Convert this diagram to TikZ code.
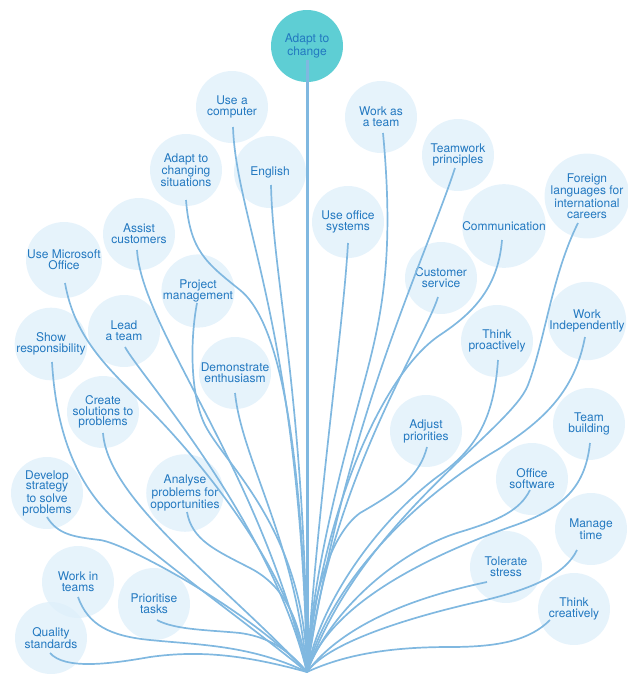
\documentclass[tikz,border=0pt]{standalone}
\usepackage{fontspec}
\setmainfont{TeX Gyre Heros}
\usepackage{tikz}
\definecolor{bub}{RGB}{222,239,250}
\definecolor{goalc}{RGB}{94,206,212}
\definecolor{ink}{RGB}{34,120,192}
\definecolor{stemc}{RGB}{128,184,224}
\newcommand{\skillfont}{\fontsize{12}{10.8}\selectfont}

\begin{document}
\begin{tikzpicture}[x=1pt,y=-1pt,
	skill/.style={circle,fill=bub,fill opacity=.75,text opacity=1,text=ink,minimum size=72pt,inner sep=0pt,align=center,font=\skillfont},
	goal/.style={skill,fill=goalc,fill opacity=1},
	stem/.style={draw=stemc,line width=1.7pt},
	trunk/.style={draw=stemc,line width=3pt},
	]
	\useasboundingbox (0,0) rectangle (628,675);
	\coordinate (root) at (307,672);

	\node[goal] (change) at (307,46) {Adapt to\\change};

	\node[skill] (comp) at (232,107) {Use a\\computer};
	\node[skill] (engl) at (270,172) {English};
	\node[skill] (adsit) at (186,170) {Adapt to\\changing\\situations};
	\node[skill] (assist) at (139,234) {Assist\\customers};
	\node[skill] (msoff) at (64,260) {Use Microsoft\\Office};
	\node[skill] (projm) at (198,291) {Project\\management};
	\node[skill] (lead) at (124,331) {Lead\\a team};
	\node[skill] (resp) at (51,344) {Show\\responsibility};
	\node[skill] (enth) at (235,373) {Demonstrate\\enthusiasm};
	\node[skill] (sol) at (103,412) {Create\\solutions to\\problems};
	\node[skill] (strat) at (47,493) {Develop\\strategy\\to solve\\problems};
	\node[skill] (anal) at (185,493) {Analyse\\problems for\\opportunities};
	\node[skill] (wteams) at (78,582) {Work in\\teams};
	\node[skill] (prio) at (154,604) {Prioritise\\tasks};
	\node[skill] (qual) at (51,638) {Quality\\standards};

	\node[skill] (wteam) at (381,117) {Work as\\a team};
	\node[skill] (twp) at (458,155) {Teamwork\\principles};
	\node[skill] (offsys) at (348,222) {Use office\\systems};
	\node[skill] (comm) at (504,226) {Communication};
	\node[skill] (lang) at (587,196) {Foreign\\languages for\\international\\careers};
	\node[skill] (cserv) at (441,278) {Customer\\service};
	\node[skill] (proact) at (497,341) {Think\\proactively};
	\node[skill] (indep) at (587,321) {Work\\Independently};
	\node[skill] (adjust) at (426,431) {Adjust\\priorities};
	\node[skill] (tbuild) at (589,424) {Team\\building};
	\node[skill] (offsw) at (532,479) {Office\\software};
	\node[skill] (mtime) at (591,529) {Manage\\time};
	\node[skill] (stress) at (506,567) {Tolerate\\stress};
	\node[skill] (creat) at (574,609) {Think\\creatively};

	\draw[trunk] ([yshift=-14pt]change.center) -- (root);

	\draw[stem] ([shift={(1,20)}]comp.center) .. controls (236,220) and (300,330) .. (root);
	\draw[stem] ([shift={(1,13)}]engl.center) .. controls (273,280) and (305,400) .. (root);
	\draw[stem] ([shift={(0,30)}]adsit.center) .. controls (190,250) and (205,262) .. (240,290) .. controls (275,318) and (302,420) .. (root);
	\draw[stem] ([shift={(-2,16)}]assist.center) .. controls (142,330) and (260,468) .. (root);
	\draw[stem] ([shift={(1,23)}]msoff.center) .. controls (75,340) and (110,370) .. (150,410) .. controls (190,450) and (295,570) .. (root);
	\draw[stem] ([shift={(-1,12)}]projm.center) .. controls (190,340) and (190,395) .. (205,425) .. controls (225,465) and (305,530) .. (root);
	\draw[stem] ([shift={(1,16)}]lead.center) .. controls (140,375) and (270,520) .. (root);
	\draw[stem] ([shift={(1,18)}]resp.center) .. controls (56,430) and (75,480) .. (110,515) .. controls (145,550) and (250,625) .. (root);
	\draw[stem] ([shift={(0,20)}]enth.center) .. controls (242,460) and (295,540) .. (root);
	\draw[stem] ([shift={(0,21)}]sol.center) .. controls (108,500) and (220,580) .. (root);
	\draw[stem] ([shift={(0,24)}]strat.center) .. controls (58,535) and (75,537) .. (100,540) .. controls (125,543) and (250,610) .. (root);
	\draw[stem] ([shift={(2,19)}]anal.center) .. controls (192,540) and (215,550) .. (250,568) .. controls (285,586) and (300,620) .. (root);
	\draw[stem] ([shift={(0,15)}]wteams.center) .. controls (88,625) and (110,636) .. (150,640) .. controls (200,645) and (250,645) .. (root);
	\draw[stem] ([shift={(3,16)}]prio.center) .. controls (175,630) and (210,630) .. (240,633) .. controls (262,636) and (285,645) .. (root);
	\draw[stem] ([shift={(-1,15)}]qual.center) .. controls (65,670) and (110,664) .. (150,657) .. controls (200,650) and (245,655) .. (root);

	\draw[stem] ([shift={(2,16)}]wteam.center) .. controls (393,240) and (385,300) .. (370,360) .. controls (355,420) and (312,560) .. (root);
	\draw[stem] ([shift={(-3,13)}]twp.center) .. controls (425,260) and (345,420) .. (root);
	\draw[stem] ([shift={(0,21)}]offsys.center) .. controls (343,330) and (318,500) .. (root);
	\draw[stem] ([shift={(-2,14)}]comm.center) .. controls (498,290) and (470,315) .. (440,335) .. controls (380,375) and (320,520) .. (root);
	\draw[stem] ([shift={(-9,27)}]lang.center) .. controls (552,275) and (545,340) .. (528,385) .. controls (511,430) and (360,520) .. (root);
	\draw[stem] ([shift={(-3,19)}]cserv.center) .. controls (425,340) and (330,480) .. (root);
	\draw[stem] ([shift={(1,19)}]proact.center) .. controls (494,420) and (475,450) .. (437,477) .. controls (380,520) and (320,600) .. (root);
	\draw[stem] ([shift={(-2,16)}]indep.center) .. controls (575,390) and (545,420) .. (497,450) .. controls (420,495) and (330,580) .. (root);
	\draw[stem] ([shift={(1,16)}]adjust.center) .. controls (420,475) and (400,490) .. (360,513) .. controls (330,535) and (310,600) .. (root);
	\draw[stem] ([shift={(1,19)}]tbuild.center) .. controls (585,490) and (560,510) .. (510,527) .. controls (440,552) and (330,600) .. (root);
	\draw[stem] ([shift={(-2,11)}]offsw.center) .. controls (520,510) and (500,520) .. (460,532) .. controls (400,550) and (330,610) .. (root);
	\draw[stem] ([shift={(-14,21)}]mtime.center) .. controls (565,575) and (530,590) .. (477,602) .. controls (420,615) and (330,640) .. (root);
	\draw[stem] ([shift={(-19,15)}]stress.center) .. controls (440,592) and (350,615) .. (root);
	\draw[stem] ([shift={(-24,11)}]creat.center) .. controls (530,640) and (500,647) .. (450,647) .. controls (400,647) and (350,652) .. (root);
\end{tikzpicture}
\end{document}
